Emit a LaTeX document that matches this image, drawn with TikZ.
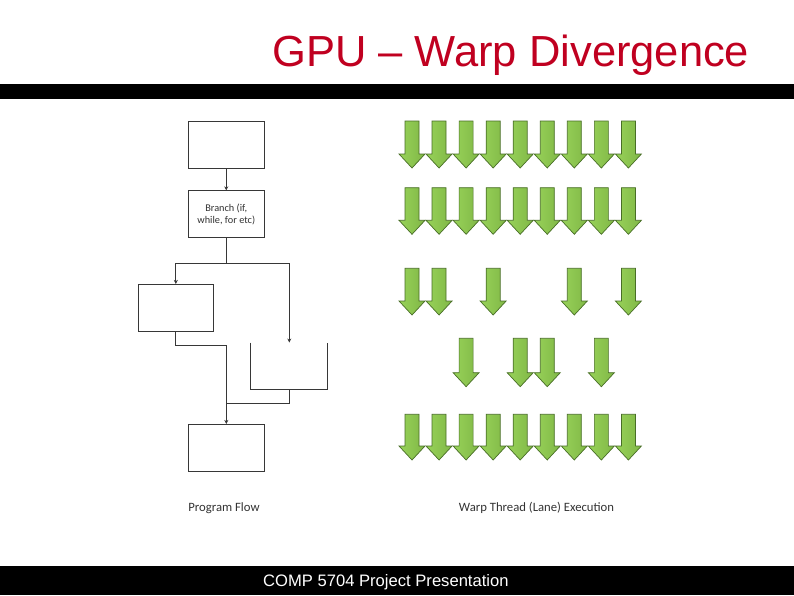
\documentclass[tikz,border=0pt]{standalone}
\usepackage{fontspec}
\setmainfont{Liberation Sans}
\newfontfamily\calib{Carlito}
\usetikzlibrary{arrows.meta}
\definecolor{titlered}{RGB}{192,0,32}
\definecolor{arrowfill}{RGB}{146,208,80}
\definecolor{arrowedge}{RGB}{72,110,38}
\definecolor{flowcol}{RGB}{55,55,55}
\tikzset{
  flowbox/.style={draw=flowcol, line width=0.9pt, minimum width=76pt, minimum height=47pt, inner sep=0pt},
  flowline/.style={draw=flowcol, line width=0.9pt},
  flowarrow/.style={flowline, -{Stealth[length=4pt,width=4pt]}},
  lbl/.style={font=\calib\fontsize{12.7}{14}\selectfont, text=black!80},
  smalllbl/.style={font=\calib\fontsize{10.3}{11.5}\selectfont, text=black!80, align=center},
  greenarrow/.style={draw=arrowedge, line width=0.7pt, left color=arrowfill!95!white, right color=arrowfill!88!black, shading angle=90},
}
\begin{document}
\begin{tikzpicture}[x=1pt,y=-1pt]
\useasboundingbox (0,0) rectangle (794,595);
\fill[white] (0,0) rectangle (794,595);
% title and bars
\node[anchor=base west, text=titlered, font=\fontsize{43.5}{50}\selectfont, inner sep=0pt] (title) at (272,66) {GPU – Warp Divergence};
\fill[black] (0,84) rectangle (794,99);
\fill[black] (0,566) rectangle (794,595);
\node[anchor=base west, text=white, font=\fontsize{16.6}{18}\selectfont, inner sep=0pt] (footer) at (263,586.5) {COMP 5704 Project Presentation};
% flowchart
\node[flowbox] (b1) at (226.3,144.8) {};
\node[flowbox, smalllbl] (b2) at (226.3,214.3) {Branch (if,\\while, for etc)};
\node[flowbox, minimum width=75pt, minimum height=46.7pt] (b3) at (175.8,307.7) {};
\node[minimum width=76.7pt, minimum height=46.6pt, inner sep=0pt] (b4) at (289.3,366) {};
\draw[flowline] (b4.north west) -- (b4.south west) -- (b4.south east) -- (b4.north east);
\node[flowbox, minimum height=46.7pt] (b5) at (226.3,447.7) {};
\coordinate (split) at (226.3,263.3);
\coordinate (m3) at (226.3,345.7);
\coordinate (join) at (226.3,403.3);
\draw[flowarrow] (b1) -- (b2);
\draw[flowline] (b2.south) -- (split);
\draw[flowarrow] (split) -| (b3.north);
\draw[flowarrow] (split) -| (b4.north);
\draw[flowarrow] (b3.south) |- (m3) -- (b5.north);
\draw[flowline] (b4.south) |- (join);
\node[lbl] (pf) at (224,508) {Program Flow};
\node[lbl] (wt) at (536.5,508) {Warp Thread (Lane) Execution};
% warp lanes
\foreach \top/\tip/\cols in {121/168/{1,2,3,4,5,6,7,8,9}, 187.7/234.3/{1,2,3,4,5,6,7,8,9}, 268.3/315/{1,2,4,7,9}, 338.3/386.7/{3,5,6,8}, 414.3/460/{1,2,3,4,5,6,7,8,9}}{
  \foreach \c in \cols {
    \pgfmathsetmacro\cx{412+27.05*(\c-1)}
    \draw[greenarrow] (\cx-7,\top) -- (\cx+7,\top) -- (\cx+7,\tip-14) -- (\cx+13,\tip-14) -- (\cx,\tip) -- (\cx-13,\tip-14) -- (\cx-7,\tip-14) -- cycle;
  }
}
\end{tikzpicture}
\end{document}
